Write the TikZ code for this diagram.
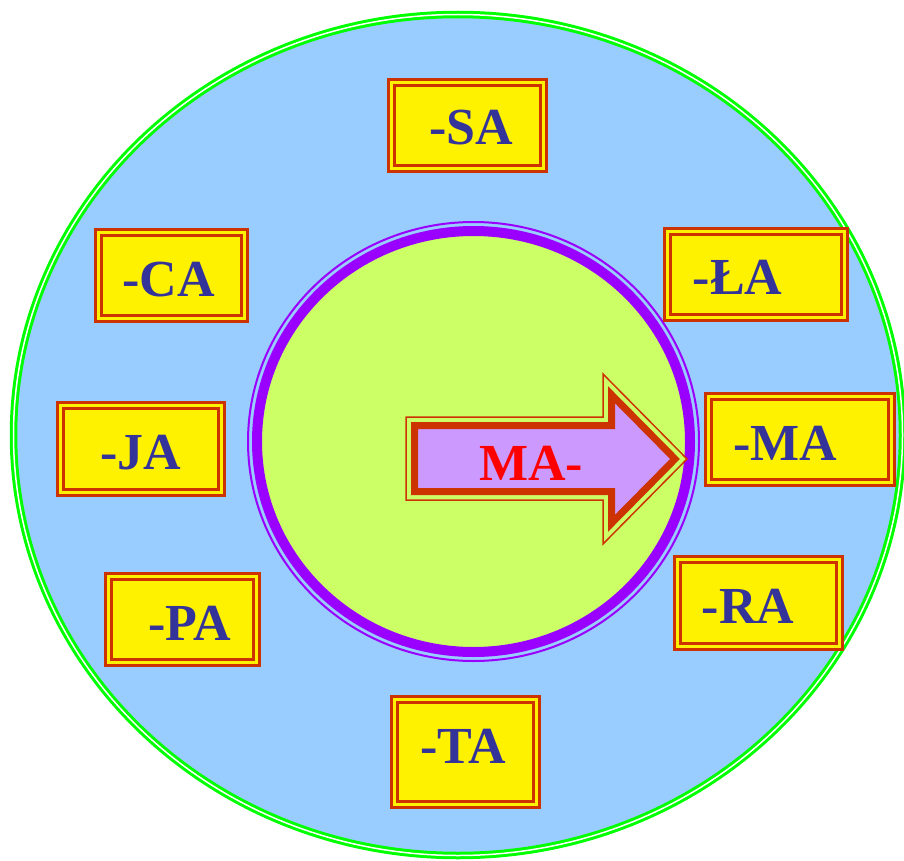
\documentclass[tikz,border=0pt]{standalone}
\usepackage{fontspec}
\setmainfont{Liberation Serif}
\definecolor{ringgreen}{HTML}{00FF00}
\definecolor{skyfill}{HTML}{99CCFF}
\definecolor{limefill}{HTML}{CCFF66}
\definecolor{violetline}{HTML}{9900FF}
\definecolor{brickred}{HTML}{CC3300}
\definecolor{lilacfill}{HTML}{CC99FF}
\definecolor{inkblue}{HTML}{333399}

\begin{document}
\begin{tikzpicture}[x=1pt, y=-1pt,
  sufbox/.style={draw=brickred, line width=3pt, double=yellow, double distance=3pt, fill=yellow, inner sep=0pt},
  suftext/.style={anchor=base, inner sep=0pt, text=inkblue, font=\bfseries\fontsize{52}{52}\selectfont}]

\useasboundingbox (0,0) rectangle (904,861);

\draw[ringgreen, line width=3pt, double=white, double distance=1.5pt, fill=skyfill] (458,435) ellipse [x radius=444.5pt, y radius=420.5pt];

\draw[violetline, line width=2pt] (473.5,441.5) ellipse [x radius=225.5pt, y radius=219.5pt];
\draw[violetline, line width=10pt, fill=limefill] (473.5,441.5) ellipse [x radius=216.5pt, y radius=210.5pt];

\filldraw[draw=brickred, line width=1.5pt, fill=limefill] (406,417) -- (603,417) -- (603,374) -- (687,459) -- (603,544) -- (603,500) -- (406,500) -- cycle;
\filldraw[draw=brickred, line width=7pt, fill=lilacfill] (414.5,425.5) -- (611.5,425.5) -- (611.5,394.7) -- (675,459) -- (611.5,523.3) -- (611.5,491.5) -- (414.5,491.5) -- cycle;
\node[suftext, text=red] (prefix) at (531,480) {MA-};

\node[sufbox, minimum width=152pt, minimum height=86pt] (boxsa) at (467.5,125.5) {};
\node[sufbox, minimum width=177pt, minimum height=86pt] (boxla) at (756,274.5) {};
\node[sufbox, minimum width=183pt, minimum height=86pt] (boxma) at (800,439.5) {};
\node[sufbox, minimum width=162pt, minimum height=87pt] (boxra) at (758.5,603) {};
\node[sufbox, minimum width=142pt, minimum height=105pt] (boxta) at (465.5,752) {};
\node[sufbox, minimum width=148pt, minimum height=86pt] (boxpa) at (182.5,619.5) {};
\node[sufbox, minimum width=161pt, minimum height=87pt] (boxja) at (141,449) {};
\node[sufbox, minimum width=146pt, minimum height=86pt] (boxca) at (171.5,275.5) {};

\node[suftext] (sa) at (471,145) {-SA};
\node[suftext] (la) at (737.5,294) {-ŁA};
\node[suftext] (ma) at (785,460) {-MA};
\node[suftext] (ra) at (748,623) {-RA};
\node[suftext] (ta) at (463.5,763) {-TA};
\node[suftext] (pa) at (189.5,640) {-PA};
\node[suftext] (ja) at (140.5,469) {-JA};
\node[suftext] (ca) at (168.5,296) {-CA};

\end{tikzpicture}
\end{document}
